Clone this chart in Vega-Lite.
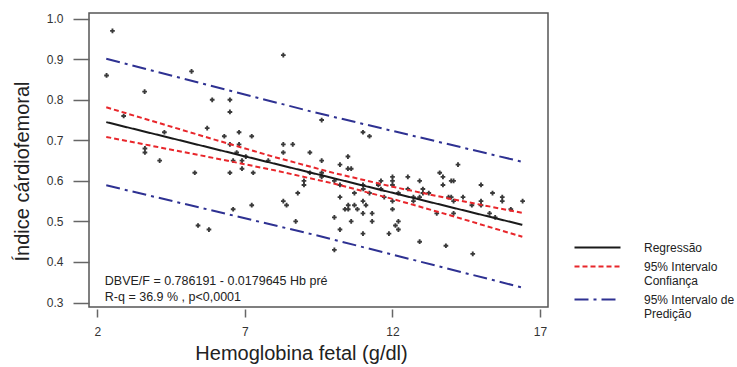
{
  "$schema": "https://vega.github.io/schema/vega-lite/v6.json",
  "width": 459,
  "height": 294,
  "autosize": {"type": "none"},
  "padding": {"left": 89, "top": 13, "right": 189, "bottom": 60},
  "background": "white",
  "config": {
    "font": "Liberation Sans",
    "view": {"stroke": "#555555", "strokeWidth": 1.5},
    "axis": {"grid": false, "labelFont": "Liberation Sans", "titleFont": "Liberation Sans", "labelColor": "#333333", "titleColor": "#222222", "titleFontWeight": "normal", "tickColor": "#666666", "tickWidth": 1.5}
  },
  "datasets": {
    "pts": [
      {"hb": 2.31, "icf": 0.86}, {"hb": 2.51, "icf": 0.97}, {"hb": 2.89, "icf": 0.76}, {"hb": 3.6, "icf": 0.82},
      {"hb": 3.61, "icf": 0.68}, {"hb": 3.61, "icf": 0.67}, {"hb": 4.11, "icf": 0.65}, {"hb": 4.27, "icf": 0.72},
      {"hb": 5.19, "icf": 0.87}, {"hb": 5.3, "icf": 0.62}, {"hb": 5.41, "icf": 0.49}, {"hb": 5.72, "icf": 0.73},
      {"hb": 5.78, "icf": 0.48}, {"hb": 5.89, "icf": 0.8}, {"hb": 6.3, "icf": 0.71}, {"hb": 6.49, "icf": 0.8},
      {"hb": 6.49, "icf": 0.77}, {"hb": 6.49, "icf": 0.69}, {"hb": 6.49, "icf": 0.62}, {"hb": 6.6, "icf": 0.65},
      {"hb": 6.6, "icf": 0.53}, {"hb": 6.72, "icf": 0.67}, {"hb": 6.8, "icf": 0.72}, {"hb": 6.8, "icf": 0.69},
      {"hb": 6.9, "icf": 0.65}, {"hb": 6.9, "icf": 0.63}, {"hb": 7.03, "icf": 0.66}, {"hb": 7.23, "icf": 0.71},
      {"hb": 7.23, "icf": 0.54}, {"hb": 7.28, "icf": 0.62}, {"hb": 7.79, "icf": 0.65}, {"hb": 8.3, "icf": 0.91},
      {"hb": 8.3, "icf": 0.69}, {"hb": 8.3, "icf": 0.67}, {"hb": 8.3, "icf": 0.55}, {"hb": 8.41, "icf": 0.54},
      {"hb": 8.62, "icf": 0.69}, {"hb": 8.72, "icf": 0.5}, {"hb": 8.79, "icf": 0.57}, {"hb": 9.0, "icf": 0.6},
      {"hb": 9.0, "icf": 0.59}, {"hb": 9.2, "icf": 0.67}, {"hb": 9.2, "icf": 0.62}, {"hb": 9.6, "icf": 0.75},
      {"hb": 9.6, "icf": 0.65}, {"hb": 9.6, "icf": 0.62}, {"hb": 9.6, "icf": 0.61}, {"hb": 10.03, "icf": 0.6},
      {"hb": 10.03, "icf": 0.51}, {"hb": 10.03, "icf": 0.43}, {"hb": 10.22, "icf": 0.64}, {"hb": 10.22, "icf": 0.59},
      {"hb": 10.22, "icf": 0.56}, {"hb": 10.22, "icf": 0.48}, {"hb": 10.39, "icf": 0.53}, {"hb": 10.49, "icf": 0.66},
      {"hb": 10.49, "icf": 0.63}, {"hb": 10.5, "icf": 0.54}, {"hb": 10.5, "icf": 0.53}, {"hb": 10.6, "icf": 0.63},
      {"hb": 10.6, "icf": 0.5}, {"hb": 10.71, "icf": 0.57}, {"hb": 10.71, "icf": 0.54}, {"hb": 10.81, "icf": 0.53},
      {"hb": 11.0, "icf": 0.72}, {"hb": 11.0, "icf": 0.59}, {"hb": 11.01, "icf": 0.58}, {"hb": 11.0, "icf": 0.55},
      {"hb": 11.0, "icf": 0.52}, {"hb": 11.0, "icf": 0.47}, {"hb": 11.1, "icf": 0.54}, {"hb": 11.22, "icf": 0.71},
      {"hb": 11.22, "icf": 0.57}, {"hb": 11.31, "icf": 0.52}, {"hb": 11.31, "icf": 0.5}, {"hb": 11.52, "icf": 0.59},
      {"hb": 11.61, "icf": 0.6}, {"hb": 11.61, "icf": 0.58}, {"hb": 11.72, "icf": 0.56}, {"hb": 11.88, "icf": 0.47},
      {"hb": 12.0, "icf": 0.61}, {"hb": 12.0, "icf": 0.6}, {"hb": 12.0, "icf": 0.59}, {"hb": 12.0, "icf": 0.55},
      {"hb": 12.0, "icf": 0.53}, {"hb": 12.1, "icf": 0.49}, {"hb": 12.2, "icf": 0.57}, {"hb": 12.2, "icf": 0.5},
      {"hb": 12.2, "icf": 0.48}, {"hb": 12.52, "icf": 0.61}, {"hb": 12.52, "icf": 0.58}, {"hb": 12.71, "icf": 0.56},
      {"hb": 12.71, "icf": 0.55}, {"hb": 12.92, "icf": 0.6}, {"hb": 12.92, "icf": 0.56}, {"hb": 12.92, "icf": 0.45},
      {"hb": 13.03, "icf": 0.58}, {"hb": 13.03, "icf": 0.57}, {"hb": 13.23, "icf": 0.57}, {"hb": 13.5, "icf": 0.52},
      {"hb": 13.6, "icf": 0.62}, {"hb": 13.71, "icf": 0.61}, {"hb": 13.71, "icf": 0.59}, {"hb": 13.81, "icf": 0.44},
      {"hb": 13.9, "icf": 0.56}, {"hb": 13.99, "icf": 0.6}, {"hb": 13.99, "icf": 0.56}, {"hb": 14.07, "icf": 0.6},
      {"hb": 14.07, "icf": 0.55}, {"hb": 14.07, "icf": 0.52}, {"hb": 14.22, "icf": 0.64}, {"hb": 14.39, "icf": 0.56},
      {"hb": 14.69, "icf": 0.54}, {"hb": 14.72, "icf": 0.42}, {"hb": 15.0, "icf": 0.59}, {"hb": 15.0, "icf": 0.55},
      {"hb": 15.0, "icf": 0.54}, {"hb": 15.29, "icf": 0.52}, {"hb": 15.39, "icf": 0.57}, {"hb": 15.48, "icf": 0.51},
      {"hb": 15.72, "icf": 0.56}, {"hb": 15.72, "icf": 0.55}, {"hb": 16.01, "icf": 0.53}, {"hb": 16.41, "icf": 0.55}
    ],
    "lines": [
      {"s": "Regressão", "g": "reg", "hb": 2.3, "icf": 0.7449},
      {"s": "Regressão", "g": "reg", "hb": 16.4, "icf": 0.4916},
      {"s": "95% Intervalo|Confiança", "g": "ciu", "hb": 2.3, "icf": 0.7814},
      {"s": "95% Intervalo|Confiança", "g": "ciu", "hb": 4, "icf": 0.7445},
      {"s": "95% Intervalo|Confiança", "g": "ciu", "hb": 6, "icf": 0.7011},
      {"s": "95% Intervalo|Confiança", "g": "ciu", "hb": 8, "icf": 0.6589},
      {"s": "95% Intervalo|Confiança", "g": "ciu", "hb": 10, "icf": 0.6197},
      {"s": "95% Intervalo|Confiança", "g": "ciu", "hb": 12, "icf": 0.5856},
      {"s": "95% Intervalo|Confiança", "g": "ciu", "hb": 14, "icf": 0.5553},
      {"s": "95% Intervalo|Confiança", "g": "ciu", "hb": 16.4, "icf": 0.521},
      {"s": "95% Intervalo|Confiança", "g": "cil", "hb": 2.3, "icf": 0.7084},
      {"s": "95% Intervalo|Confiança", "g": "cil", "hb": 4, "icf": 0.6841},
      {"s": "95% Intervalo|Confiança", "g": "cil", "hb": 6, "icf": 0.6557},
      {"s": "95% Intervalo|Confiança", "g": "cil", "hb": 8, "icf": 0.6261},
      {"s": "95% Intervalo|Confiança", "g": "cil", "hb": 10, "icf": 0.5935},
      {"s": "95% Intervalo|Confiança", "g": "cil", "hb": 12, "icf": 0.5556},
      {"s": "95% Intervalo|Confiança", "g": "cil", "hb": 14, "icf": 0.5141},
      {"s": "95% Intervalo|Confiança", "g": "cil", "hb": 16.4, "icf": 0.4622},
      {"s": "95% Intervalo de|Predição", "g": "piu", "hb": 2.3, "icf": 0.901},
      {"s": "95% Intervalo de|Predição", "g": "piu", "hb": 9.3, "icf": 0.77},
      {"s": "95% Intervalo de|Predição", "g": "piu", "hb": 16.4, "icf": 0.647},
      {"s": "95% Intervalo de|Predição", "g": "pil", "hb": 2.3, "icf": 0.589},
      {"s": "95% Intervalo de|Predição", "g": "pil", "hb": 9.3, "icf": 0.468},
      {"s": "95% Intervalo de|Predição", "g": "pil", "hb": 16.4, "icf": 0.337}
    ],
    "notes": [
      {"t": "DBVE/F = 0.786191 - 0.0179645 Hb pré", "hb": 2.25, "icf": 0.353},
      {"t": "R-q = 36.9 % , p<0,0001", "hb": 2.25, "icf": 0.314}
    ]
  },
  "layer": [
    {
      "data": {"name": "pts"},
      "mark": {"type": "point", "shape": "cross", "filled": true, "size": 22, "color": "#3a3a3a", "opacity": 1},
      "encoding": {
        "x": {"field": "hb", "type": "quantitative", "scale": {"domain": [1.715, 17.27], "nice": false, "zero": false},
          "axis": {"values": [2, 7, 12, 17], "domain": false, "tickSize": 8, "offset": 2, "labelFontSize": 12, "labelPadding": 9,
            "title": "Hemoglobina fetal (g/dl)", "titleFontSize": 20, "titlePadding": 6, "titleX": 212}},
        "y": {"field": "icf", "type": "quantitative", "scale": {"domain": [0.289, 1.014], "nice": false, "zero": false},
          "axis": {"values": [0.3, 0.4, 0.5, 0.6, 0.7, 0.8, 0.9, 1.0], "format": ".1f", "domain": false, "tickSize": 16, "labelFontSize": 12, "labelPadding": 10,
            "title": "Índice cárdiofemoral", "titleFontSize": 20, "titlePadding": 14, "titleY": 158}}
      }
    },
    {
      "data": {"name": "lines"},
      "mark": {"type": "line", "strokeWidth": 2},
      "encoding": {
        "x": {"field": "hb", "type": "quantitative"},
        "y": {"field": "icf", "type": "quantitative"},
        "detail": {"field": "g"},
        "color": {"field": "s", "type": "nominal",
          "scale": {"domain": ["Regressão", "95% Intervalo|Confiança", "95% Intervalo de|Predição"], "range": ["#1a1a1a", "#e8262b", "#2e3192"]},
          "legend": {"title": null, "orient": "none", "legendX": 496, "legendY": 222, "symbolType": "M-2,0H2", "symbolSize": 529, "symbolStrokeWidth": 2,
            "labelExpr": "split(datum.label, '|')", "labelFontSize": 12, "labelColor": "#222222", "labelOffset": 34, "rowPadding": -1, "labelLimit": 200}},
        "strokeDash": {"field": "s", "type": "nominal",
          "scale": {"domain": ["Regressão", "95% Intervalo|Confiança", "95% Intervalo de|Predição"], "range": [[1, 0], [5, 3], [14, 5, 3, 5]]},
          "legend": {"title": null, "orient": "none", "legendX": 496, "legendY": 222, "symbolType": "M-2,0H2", "symbolSize": 529, "symbolStrokeWidth": 2,
            "labelExpr": "split(datum.label, '|')", "labelFontSize": 12, "labelColor": "#222222", "labelOffset": 34, "rowPadding": -1, "labelLimit": 200}}
      }
    },
    {
      "data": {"name": "notes"},
      "mark": {"type": "text", "align": "left", "baseline": "middle", "fontSize": 12.5, "color": "#222222"},
      "encoding": {
        "x": {"field": "hb", "type": "quantitative"},
        "y": {"field": "icf", "type": "quantitative"},
        "text": {"field": "t"}
      }
    }
  ]
}
